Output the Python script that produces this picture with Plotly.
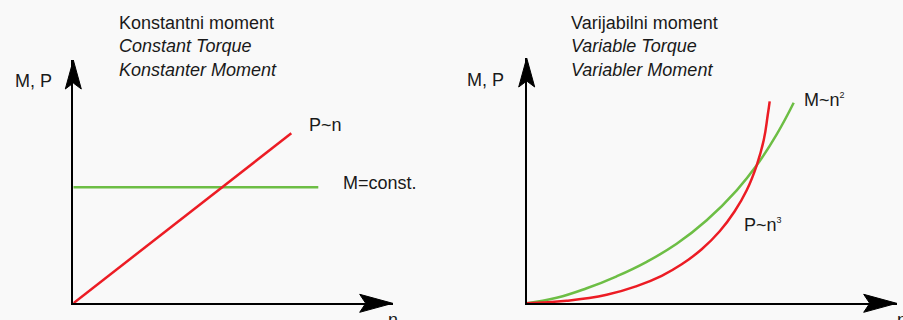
import plotly.graph_objects as go

W, H = 903, 320
BG = "#F9F9F9"
RED = "#EC1C24"
GRN = "#6DBE45"
FONT = "Liberation Sans, Arial, sans-serif"

# left panel: constant torque
const_n_P = [0, 21.8]
const_P = [0, 17.0]
const_n_M = [0, 24.5]
const_M = [11.6, 11.6]

# right panel: variable torque
var_n_M = [0, 3, 6, 9, 12, 15, 18, 21, 23, 25, 26.7]
var_M = [0, 0.55, 1.5, 2.7, 4.15, 5.95, 8.3, 11.3, 13.8, 16.9, 20.06]
var_n_P = [0, 4, 8, 11, 13.5, 15.5, 17.5, 19.3, 20.8, 22, 23, 23.7, 24.1, 24.3]
var_P = [0, 0.25, 0.85, 1.72, 2.75, 3.9, 5.4, 7.2, 9.2, 11.3, 13.8, 16.3, 18.8, 20.2]

# panel geometry in pixels: (left, right, bottom, top)
L = (73.3, 392.7, 303.3, 60)
R = (526.7, 896.7, 303.3, 58)


def px(x):
    return x / W


def py(y):
    return 1 - y / H


fig = go.Figure()

line_kw = dict(mode="lines", cliponaxis=False, hoverinfo="skip", showlegend=False)
fig.add_trace(go.Scatter(x=const_n_M, y=const_M, line=dict(color=GRN, width=2.5),
                         xaxis="x", yaxis="y", **line_kw))
fig.add_trace(go.Scatter(x=const_n_P, y=const_P, line=dict(color=RED, width=2.5),
                         xaxis="x", yaxis="y", **line_kw))
fig.add_trace(go.Scatter(x=var_n_M, y=var_M,
                         line=dict(color=GRN, width=2.5, shape="spline", smoothing=1.3),
                         xaxis="x2", yaxis="y2", **line_kw))
fig.add_trace(go.Scatter(x=var_n_P, y=var_P,
                         line=dict(color=RED, width=2.5, shape="spline", smoothing=1.3),
                         xaxis="x2", yaxis="y2", **line_kw))

ax = dict(showline=True, linecolor="black", linewidth=2, showgrid=False, zeroline=False,
          showticklabels=False, ticks="", fixedrange=True)


def panel(g):
    l, r, b, t = g
    xr = [0, (r - l) / 10]
    yr = [0, (b - t) / 10]
    return [px(l), px(r)], [py(b), py(t)], xr, yr


xd, yd, xr, yr = panel(L)
xd2, yd2, xr2, yr2 = panel(R)

fig.update_layout(
    width=W, height=H, margin=dict(l=0, r=0, t=0, b=0),
    paper_bgcolor=BG, plot_bgcolor=BG, showlegend=False,
    font=dict(family=FONT, size=18, color="#1a1a1a"),
    xaxis=dict(ax, domain=xd, range=xr, anchor="y"),
    yaxis=dict(ax, domain=yd, range=yr, anchor="x"),
    xaxis2=dict(ax, domain=xd2, range=xr2, anchor="y2"),
    yaxis2=dict(ax, domain=yd2, range=yr2, anchor="x2"),
)

# arrowheads (paper-referenced so they are not clipped by the plot area)
up = "M 0 0 L -8 -29 L 0 -23 L 8 -29 Z"
right = "M 0 0 L -33 -9 L -27 0 L -33 9 Z"
for l, r, b, t in (L, R):
    fig.add_shape(type="path", xref="paper", yref="paper", xsizemode="pixel", ysizemode="pixel",
                  xanchor=px(l), yanchor=py(t), path=up, fillcolor="black",
                  line=dict(color="black", width=1))
    fig.add_shape(type="path", xref="paper", yref="paper", xsizemode="pixel", ysizemode="pixel",
                  xanchor=px(r), yanchor=py(b), path=right, fillcolor="black",
                  line=dict(color="black", width=1))


def label(text, x, y, xanchor="left"):
    fig.add_annotation(text=text, x=px(x), y=py(y), xref="paper", yref="paper",
                       xanchor=xanchor, yanchor="middle", showarrow=False,
                       align="left")


sup = '<sup><span style="font-size:9px">{}</span></sup>'

label("Konstantni moment<br><i>Constant Torque</i><br><i>Konstanter Moment</i>", 116.7, 46)
label("Varijabilni moment<br><i>Variable Torque</i><br><i>Variabler Moment</i>", 569, 46)
label("M, P", 13.3, 80.7)
label("M, P", 465, 79.5)
label("P~n", 307.3, 124.5)
label("M=const.", 340.7, 183)
label("M~n" + sup.format("2"), 801.7, 99.5)
label("P~n" + sup.format("3"), 741.7, 224.5)
label("n", 386, 320)
label("n", 895, 320)

fig.write_html("out.html", config={"displayModeBar": False},
               post_script="document.body.style.margin='0';")
